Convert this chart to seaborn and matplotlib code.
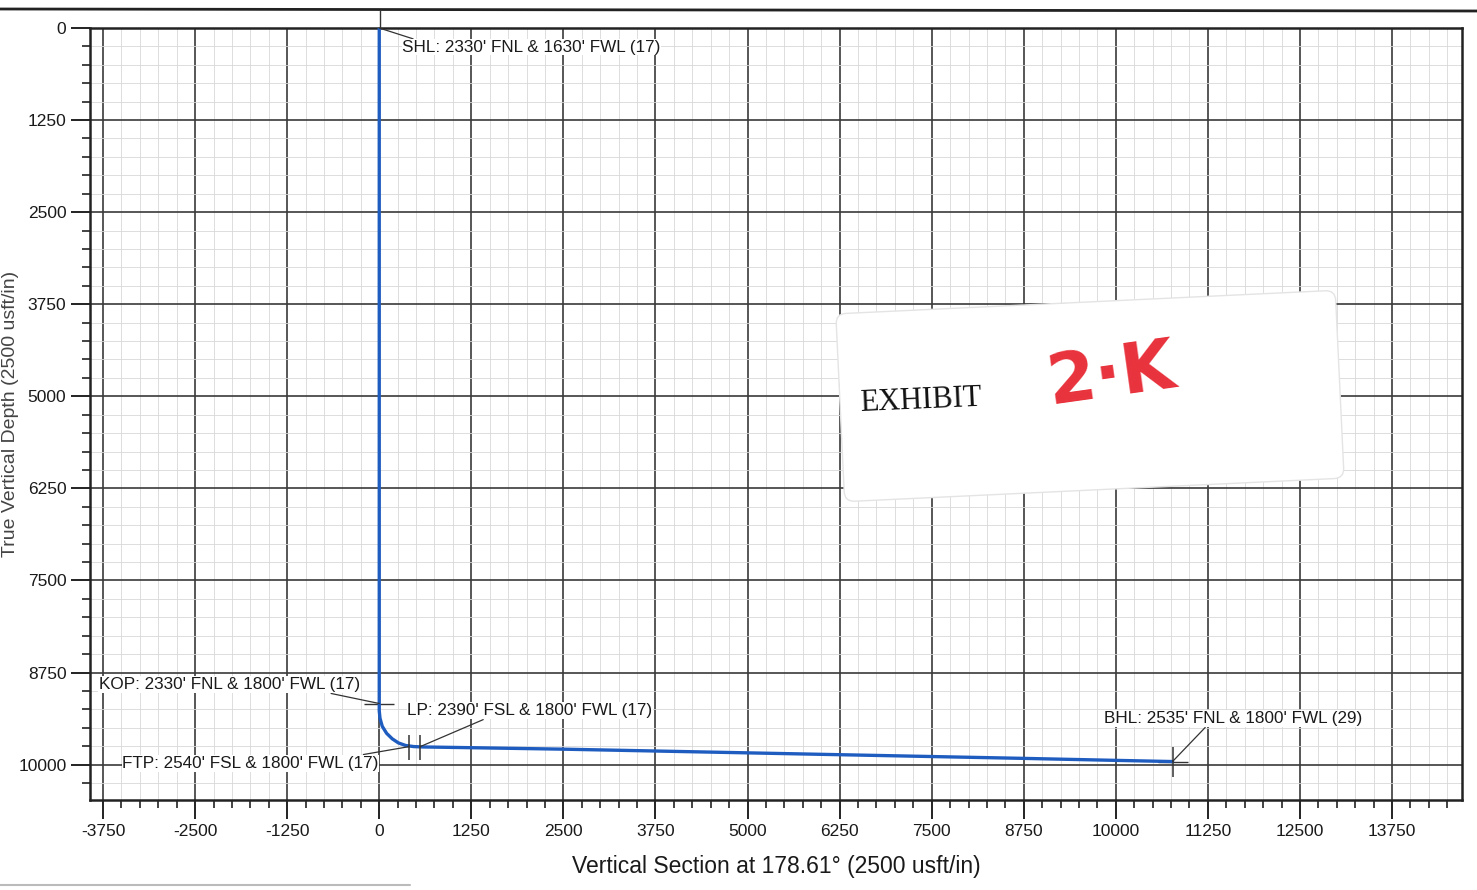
import matplotlib
matplotlib.use("Agg")
import matplotlib.pyplot as plt
import matplotlib.transforms as mtransforms
from matplotlib.patches import FancyBboxPatch
from matplotlib.lines import Line2D
from matplotlib.ticker import MultipleLocator
import seaborn as sns

# well path (vertical section, TVD in usft)
vs = [0, 0, 0, 10, 41, 100, 177, 260, 358, 470, 600,
      1250, 2500, 3750, 5000, 6250, 7500, 8750, 10000, 10770]
tvd = [0, 5000, 9270, 9370, 9480, 9575, 9650, 9705, 9740, 9755, 9760,
       9770, 9790, 9815, 9840, 9865, 9890, 9915, 9942, 9958]

xticks = [-3750, -2500, -1250, 0, 1250, 2500, 3750, 5000, 6250,
          7500, 8750, 10000, 11250, 12500, 13750]
yticks = [0, 1250, 2500, 3750, 5000, 6250, 7500, 8750, 10000]

ann_labels = ["SHL: 2330' FNL & 1630' FWL (17)",
              "KOP: 2330' FNL & 1800' FWL (17)",
              "LP: 2390' FSL & 1800' FWL (17)",
              "FTP: 2540' FSL & 1800' FWL (17)",
              "BHL: 2535' FNL & 1800' FWL (29)"]
ann_vs = [0, 0, 557, 408, 10770]
ann_tvd = [0, 9170, 9755, 9755, 9958]

sns.set_theme(style="white")
plt.rcParams["font.family"] = ["Liberation Sans", "DejaVu Sans"]
plt.rcParams["axes.unicode_minus"] = False

fig = plt.figure(figsize=(14.77, 8.90), dpi=100)
ax = fig.add_axes([90 / 1477, 1 - 800 / 890, (1462 - 90) / 1477, (800 - 28) / 890])

sns.lineplot(x=vs, y=tvd, sort=False, estimator=None, color="#1f5cc0",
             lw=2.4, ax=ax, zorder=4)

ax.set_xlim(-3927, 14700)
ax.set_ylim(10480, 0)
ax.set_xticks(xticks)
ax.set_xticklabels([str(v) for v in xticks])
ax.set_yticks(yticks)
ax.set_yticklabels([str(v) for v in yticks])
ax.xaxis.set_minor_locator(MultipleLocator(250))
ax.yaxis.set_minor_locator(MultipleLocator(250))

ax.grid(which="major", color="#3a3a3a", lw=1.2)
ax.grid(which="minor", color="#d8d8d8", lw=0.6)
ax.set_axisbelow(True)
ax.tick_params(which="major", direction="out", length=14, width=1.4,
               labelsize=12.5, pad=3, color="#222222", labelcolor="#1a1a1a",
               bottom=True, left=True)
ax.tick_params(which="minor", direction="out", length=6, width=1.2,
               color="#222222", bottom=True, left=True)
for s in ax.spines.values():
    s.set_linewidth(1.8)
    s.set_color("#222222")

ax.set_xlabel("Vertical Section at 178.61° (2500 usft/in)", fontsize=16.5,
              color="#1a1a1a", labelpad=12)
ax.set_ylabel("True Vertical Depth (2500 usft/in)", fontsize=14, color="#444444")
ax.yaxis.set_label_coords(-0.052, 0.5)

# point markers and labels
offsets = [(16.6, -13.7), (-202, 13.7), (-9.4, 25.9), (-206.6, -12.2), (-49, 31)]
relpos = [(0.05, 1.0), (0.89, -0.1), (0.31, -0.1), (0.94, 1.1), (0.39, -0.1)]
for lab, x, y, off, rp in zip(ann_labels, ann_vs, ann_tvd, offsets, relpos):
    ax.annotate(lab, xy=(x, y), xytext=off, textcoords="offset points",
                ha="left", va="center", fontsize=12.3, color="#1a1a1a", zorder=6,
                bbox=dict(fc="white", ec="none", pad=0.5),
                arrowprops=dict(arrowstyle="-", color="#333333", lw=0.9,
                                shrinkA=0, shrinkB=0, relpos=rp))

ax.plot(ann_vs[2:4], ann_tvd[2:4], ls="none", marker="|", ms=18, mew=1.1,
        color="#333333", zorder=5)
ax.plot(ann_vs[4:], ann_tvd[4:], ls="none", marker="|", ms=22, mew=1.1,
        color="#333333", zorder=5)
ax.plot(ann_vs[1:2] + ann_vs[4:], ann_tvd[1:2] + ann_tvd[4:], ls="none",
        marker="_", ms=22, mew=1.0, color="#333333", zorder=3)

# scan borders
px = mtransforms.IdentityTransform()
fig.add_artist(Line2D([0, 1477], [881, 879], transform=px, color="#222222", lw=2))
fig.add_artist(Line2D([380, 380], [862, 880], transform=px, color="#333333", lw=1))
fig.add_artist(Line2D([0, 410], [5, 5], transform=px, color="#bbbbbb", lw=1.5))

# exhibit sticker
rot = mtransforms.Affine2D().rotate_deg_around(1090, 493, 2.7) + px
sticker = FancyBboxPatch((840, 400), 500, 188, boxstyle="round,pad=0,rounding_size=10",
                         transform=rot, fc="white", ec="#e4e4e4", lw=1, zorder=5)
fig.add_artist(sticker)
fig.text(921, 489, "EXHIBIT", transform=px, ha="center", va="center",
         rotation=2.5, family="Liberation Serif", fontsize=22, color="#111111",
         zorder=6)
fig.text(1112, 514, "2·K", transform=px, ha="center", va="center",
         rotation=8, family="DejaVu Sans", fontsize=50, fontweight="bold",
         color="#e8323c", zorder=6)

fig.savefig("out.png", dpi=100)
